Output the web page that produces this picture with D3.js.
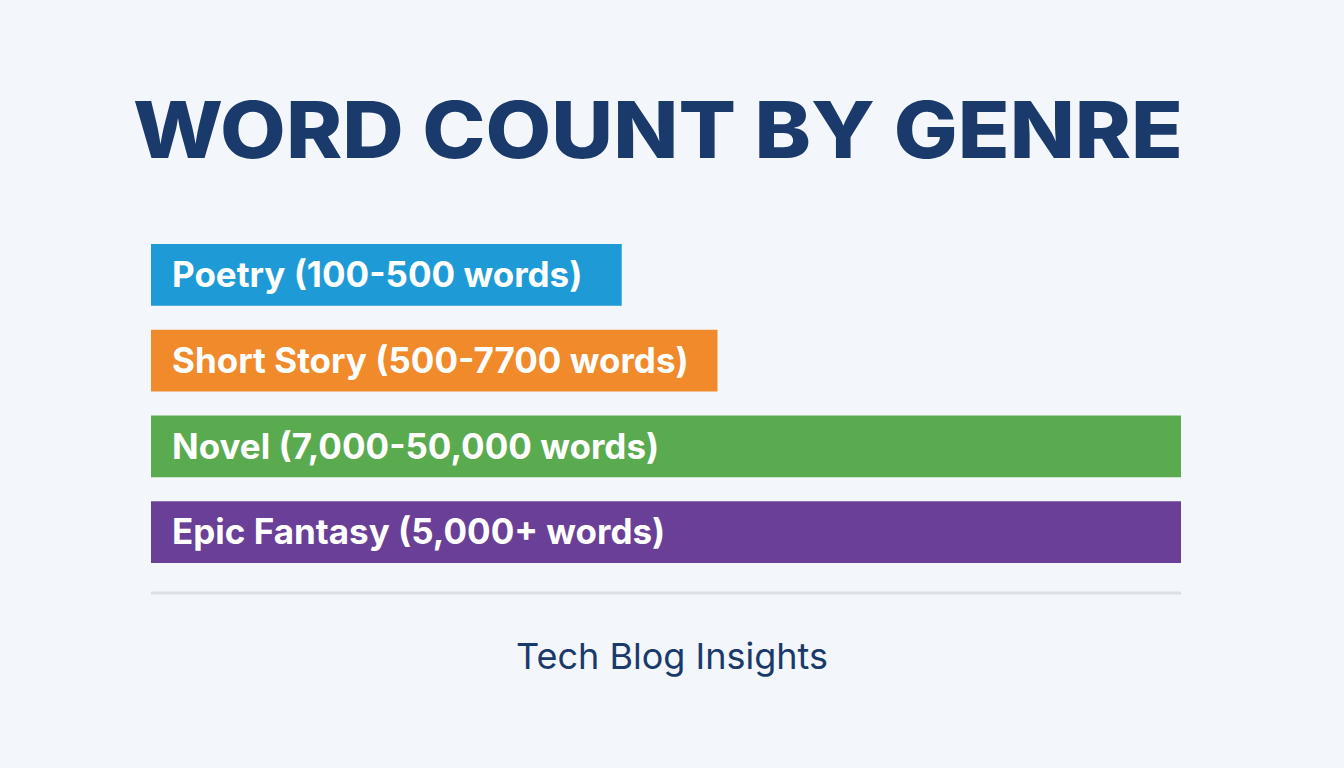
<!DOCTYPE html>
<html><head><meta charset="utf-8">
<script src="https://cdn.jsdelivr.net/npm/d3@7"></script>
<style>body{margin:0;background:#f3f6fa;}svg{display:block}</style>
</head><body>
<script>
const categories = ["Poetry (100-500 words)","Short Story (500-7700 words)","Novel (7,000-50,000 words)","Epic Fantasy (5,000+ words)"];
const values = [45.7, 55, 100, 100];
const colors = ["#1e9bd7","#f08a2b","#5aab50","#6a3f97"];

const W=1344,H=768;
const svg=d3.select("body").append("svg").attr("width",W).attr("height",H);
svg.append("rect").attr("width",W).attr("height",H).attr("fill","#f3f6fa");

svg.append("text").attr("x",658).attr("y",158).attr("text-anchor","middle")
  .attr("font-family","Inter, 'DejaVu Sans', sans-serif").attr("font-weight",800)
  .attr("font-size",78).attr("fill","#1a3a6b")
  .attr("textLength",1050).attr("lengthAdjust","spacingAndGlyphs")
  .text("WORD COUNT BY GENRE");

const x=d3.scaleLinear().domain([0,100]).range([151,1181]);
const y=d3.scaleBand().domain(categories).range([244,563]).paddingInner(0.28).paddingOuter(0);

const g=svg.append("g");
g.selectAll("rect.bar").data(categories).join("rect").attr("class","bar")
  .attr("x",x(0)).attr("y",d=>y(d)).attr("height",y.bandwidth())
  .attr("width",(d,i)=>x(values[i])-x(0)).attr("fill",(d,i)=>colors[i]);
g.selectAll("text.lbl").data(categories).join("text").attr("class","lbl")
  .attr("x",x(0)+21).attr("y",d=>y(d)+y.bandwidth()/2).attr("dy","0.35em")
  .attr("font-family","Inter, 'DejaVu Sans', sans-serif").attr("font-weight",700)
  .attr("font-size",35).attr("fill","#fff").text(d=>d);

svg.append("line").attr("x1",151).attr("x2",1181).attr("y1",593).attr("y2",593)
  .attr("stroke","#dcdfe4").attr("stroke-width",3);

svg.append("text").attr("x",672).attr("y",669).attr("text-anchor","middle")
  .attr("font-family","Inter, 'DejaVu Sans', sans-serif").attr("font-size",36)
  .attr("fill","#1a3a6b").text("Tech Blog Insights");
</script>
</body></html>
